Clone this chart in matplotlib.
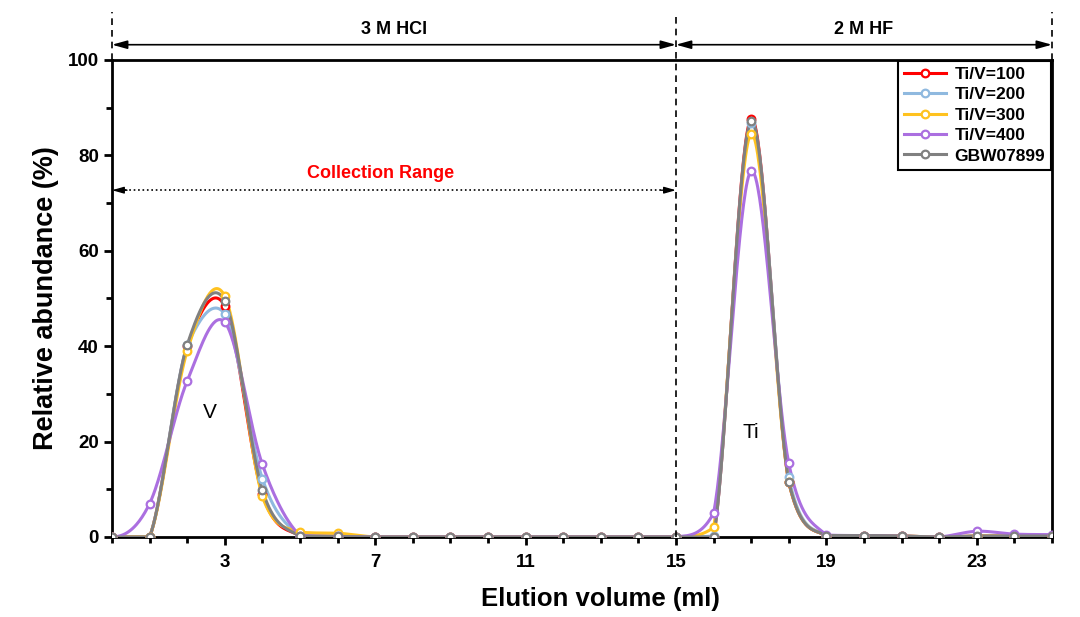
"""
Elution curves of V and Ti on the resin column for several Ti/V ratios.
"""

import numpy as np
import matplotlib.pyplot as plt
from matplotlib.lines import Line2D

plt.rcParams['font.family'] = ['Liberation Sans', 'DejaVu Sans']

# ── Data ────────────────────────────────────────────────────────────────────

volume = np.arange(0, 26)

ti_v_100 = [0, 0, 40.0, 48.5, 9.0, 0.3, 0.2, 0, 0, 0, 0, 0, 0, 0, 0, 0,
            0, 87.6, 11.5, 0.3, 0.3, 0.2, 0, 0.2, 0.2, 0.2]
ti_v_200 = [0, 0, 40.2, 46.8, 12.2, 0.3, 0.2, 0, 0, 0, 0, 0, 0, 0, 0, 0,
            0.2, 86.8, 12.5, 0.3, 0.3, 0.2, 0, 0.2, 0.2, 0.2]
ti_v_300 = [0, 0, 39.0, 50.5, 8.5, 1.0, 0.8, 0, 0, 0, 0, 0, 0, 0, 0, 0,
            2.0, 84.5, 11.5, 0.3, 0.3, 0.2, 0, 0.2, 0.2, 0.2]
ti_v_400 = [0, 7.0, 32.7, 45.0, 15.2, 0.3, 0.1, 0, 0, 0, 0, 0, 0, 0, 0, 0,
            5.0, 76.7, 15.5, 0.4, 0.3, 0.2, 0, 1.2, 0.6, 0.5]
gbw07899 = [0, 0, 40.3, 49.5, 9.8, 0.2, 0.1, 0, 0, 0, 0, 0, 0, 0, 0, 0,
            0, 87.2, 11.6, 0.3, 0.3, 0.2, 0, 0.2, 0.2, 0.2]

series_labels = ['Ti/V=100', 'Ti/V=200', 'Ti/V=300', 'Ti/V=400', 'GBW07899']
series_values = [ti_v_100, ti_v_200, ti_v_300, ti_v_400, gbw07899]
series_colors = ['#ff0000', '#8fb9df', '#ffc21f', '#ab6fe0', '#808080']

HCL_END = 15
HF_END = 25


def smooth(x, y, n=40):
    """Catmull-Rom style Hermite curve with a Fritsch-Carlson size limit."""
    x = np.asarray(x, float)
    y = np.asarray(y, float)
    m = np.zeros_like(y)
    m[1:-1] = (y[2:] - y[:-2]) / (x[2:] - x[:-2])
    xs, ys = [], []
    for k in range(len(x) - 1):
        h = x[k + 1] - x[k]
        d = (y[k + 1] - y[k]) / h
        m0, m1 = m[k], m[k + 1]
        if d == 0:
            m0 = m1 = 0.0
        else:
            a, b = m0 / d, m1 / d
            s = a * a + b * b
            if s > 9:
                tau = 3 / np.sqrt(s)
                m0, m1 = m0 * tau, m1 * tau
        t = np.linspace(0, 1, n, endpoint=False)
        h00 = 2 * t**3 - 3 * t**2 + 1
        h10 = t**3 - 2 * t**2 + t
        h01 = -2 * t**3 + 3 * t**2
        h11 = t**3 - t**2
        xs.append(x[k] + t * h)
        ys.append(h00 * y[k] + h10 * h * m0 + h01 * y[k + 1] + h11 * h * m1)
    xs.append([x[-1]])
    ys.append([y[-1]])
    return np.concatenate(xs), np.clip(np.concatenate(ys), 0, None)


# ── Plot ─────────────────────────────────────────────────────────────────────

fig = plt.figure(figsize=(10.8, 6.17), dpi=100)
ax = fig.add_axes([0.1037, 0.1297, 0.8703, 0.7731])

for vals, color in zip(series_values, series_colors):
    xs, ys = smooth(volume, vals)
    ax.plot(xs, ys, color=color, lw=2.2, zorder=3)
    ax.plot(volume, vals, ls='none', marker='o', ms=5.5, mfc='white',
            mec=color, mew=1.6, zorder=4)

ax.set_xlim(0, HF_END)
ax.set_ylim(0, 100)
ax.set_xticks([3, 7, 11, 15, 19, 23])
ax.set_xticks(np.arange(0, 26), minor=True)
ax.set_yticks(np.arange(0, 101, 20))
ax.set_yticks(np.arange(0, 101, 10), minor=True)
ax.tick_params(which='major', direction='out', length=6, width=2,
               labelsize=13.5)
ax.tick_params(axis='x', which='major', pad=6)
ax.tick_params(which='minor', direction='out', length=4, width=2)
for lbl in ax.get_xticklabels() + ax.get_yticklabels():
    lbl.set_fontweight('bold')
for sp in ax.spines.values():
    sp.set_linewidth(2)

ax.set_xlabel('Elution volume (ml)', fontsize=18.5, fontweight='bold')
ax.xaxis.set_label_coords(0.52, -0.105)
ax.set_ylabel('Relative abundance (%)', fontsize=19.5, fontweight='bold', labelpad=6)

# Peak labels
ax.text(2.6, 26.0, 'V', fontsize=15, ha='center', va='center')
ax.text(17.0, 22.0, 'Ti', fontsize=15, ha='center', va='center')

# Eluent sections above the axes
dash = dict(color='black', lw=1.2, ls=(0, (4, 3)), clip_on=False, zorder=5)
ax.plot([0, 0], [100, 110], **dash)
ax.plot([HF_END, HF_END], [100, 110], **dash)
ax.plot([HCL_END, HCL_END], [0, 110], **dash)

arrow = dict(arrowstyle='<|-|>,head_length=0.9,head_width=0.25', color='black',
             lw=1.2, shrinkA=0, shrinkB=0)
ax.annotate('', xy=(0, 103.2), xytext=(HCL_END, 103.2), arrowprops=arrow,
            annotation_clip=False)
ax.annotate('', xy=(HCL_END, 103.2), xytext=(HF_END, 103.2), arrowprops=arrow,
            annotation_clip=False)
ax.text(HCL_END / 2, 106.3, '3 M HCl', fontsize=13, fontweight='bold',
        ha='center', va='center')
ax.text((HCL_END + HF_END) / 2, 106.3, '2 M HF', fontsize=13,
        fontweight='bold', ha='center', va='center')

# Collection range
ax.plot([0.1, HCL_END - 0.1], [72.7, 72.7], color='black', lw=1.2, ls=':')
head = dict(arrowstyle='-|>,head_length=0.7,head_width=0.2', color='black',
            lw=1.0, shrinkA=0, shrinkB=0)
ax.annotate('', xy=(0, 72.7), xytext=(0.4, 72.7), arrowprops=head)
ax.annotate('', xy=(HCL_END, 72.7), xytext=(HCL_END - 0.4, 72.7), arrowprops=head)
ax.text(7.15, 76.1, 'Collection Range', color='#ff0000', fontsize=13,
        fontweight='bold', ha='center', va='center')

handles = [Line2D([], [], color=c, lw=2.2, marker='o', ms=5.5, mfc='white',
                  mec=c, mew=1.6) for c in series_colors]
leg = ax.legend(handles, series_labels, loc='upper right', borderaxespad=0.05,
                fancybox=False, edgecolor='black', framealpha=1,
                prop={'weight': 'bold', 'size': 12.5}, handlelength=2.4,
                labelspacing=0.3, borderpad=0.35, handletextpad=0.5)
leg.get_frame().set_linewidth(1.5)

plt.savefig('out.png', dpi=100)
plt.close()
